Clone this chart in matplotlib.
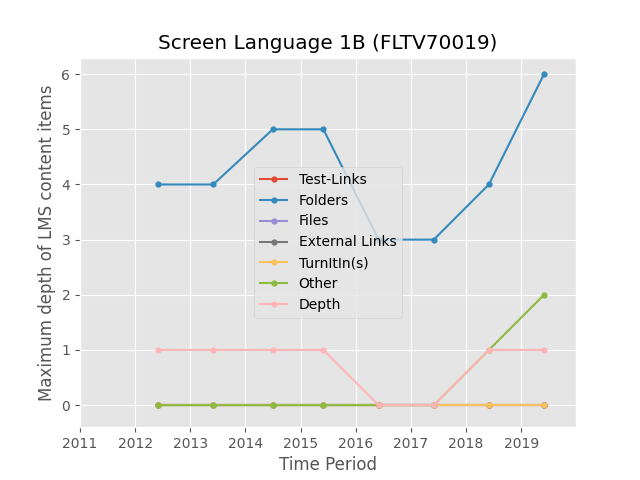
import matplotlib
matplotlib.use("Agg")
import matplotlib.pyplot as plt
import matplotlib.dates as mdates
import datetime as dt

plt.style.use("ggplot")

dates = [dt.date(2012, 6, 1), dt.date(2013, 6, 1), dt.date(2014, 7, 1), dt.date(2015, 6, 1),
         dt.date(2016, 6, 1), dt.date(2017, 6, 1), dt.date(2018, 6, 1), dt.date(2019, 6, 1)]
test_links = [0, 0, 0, 0, 0, 0, 0, 0]
folders = [4, 4, 5, 5, 3, 3, 4, 6]
files = [0, 0, 0, 0, 0, 0, 0, 0]
external_links = [0, 0, 0, 0, 0, 0, 0, 0]
turnitin = [0, 0, 0, 0, 0, 0, 0, 0]
other = [0, 0, 0, 0, 0, 0, 1, 2]
depth = [1, 1, 1, 1, 0, 0, 1, 1]

series = [("Test-Links", test_links), ("Folders", folders), ("Files", files),
          ("External Links", external_links), ("TurnItIn(s)", turnitin),
          ("Other", other), ("Depth", depth)]

fig, ax = plt.subplots(figsize=(6.4, 4.8), dpi=100)
for name, vals in series:
    ax.plot(dates, vals, marker="o", markersize=3.5, label=name)

ax.set_xlim(dt.date(2011, 1, 1), dt.date(2019, 12, 30))
ax.set_ylim(-0.4, 6.3)
ax.xaxis.set_major_locator(mdates.YearLocator())
ax.xaxis.set_major_formatter(mdates.DateFormatter("%Y"))
ax.set_title("Screen Language 1B (FLTV70019)")
ax.set_xlabel("Time Period")
ax.set_ylabel("Maximum depth of LMS content items")
ax.legend(loc="center")
fig.savefig("out.png", dpi=100)
